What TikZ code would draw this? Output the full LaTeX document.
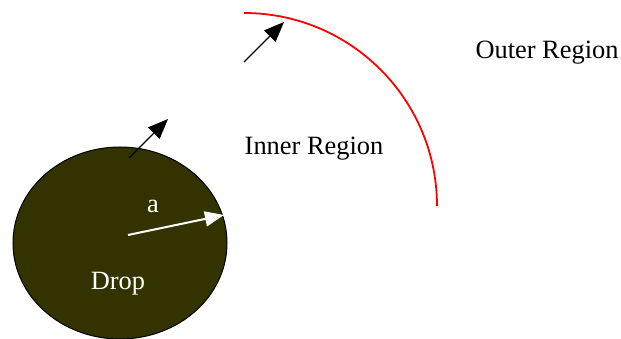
\documentclass[tikz,border=0pt]{standalone}
\usepackage{fontspec}
\setmainfont{Liberation Serif}
\usetikzlibrary{arrows.meta,shapes.geometric}
\definecolor{dropfill}{RGB}{51,51,0}
\tikzset{
  lbl/.style={font=\fontsize{26.4}{30}\selectfont, inner sep=0pt},
  bigarrow/.style={line width=1.3pt, -{Triangle[length=20pt,width=16pt]}},
}
\begin{document}
\begin{tikzpicture}[x=1pt,y=-1pt]
\useasboundingbox (0,0) rectangle (621,339);
% drop
\node[ellipse, draw=black, line width=1pt, fill=dropfill, minimum width=214pt, minimum height=192pt, inner sep=0pt] (drop) at (120,243) {};
% white radius arrow
\coordinate (rs) at (128,235);
\coordinate (re) at (224,215);
\draw[white, line width=2pt, -{Triangle[length=19pt,width=15pt]}] (rs) -- (re);
\node[lbl, text=white] (a) at (153,206) {a};
\node[lbl, text=white] (droplbl) at (118,284) {Drop};
% arrow leaving the drop
\coordinate (b1s) at (129,158);
\coordinate (b1e) at (168,119);
\draw[bigarrow] (b1s) -- (b1e);
% red arc
\coordinate (arcstart) at (244,13);
\draw[red, line width=1.8pt] (arcstart) arc[start angle=90, end angle=0, radius=193pt] coordinate (arcend);
% arrow towards the arc
\coordinate (b2s) at (244,62);
\coordinate (b2e) at (284,22);
\draw[bigarrow] (b2s) -- (b2e);
% labels
\node[lbl] (inner) at (314,149) {Inner Region};
\node[lbl] (outer) at (547,53) {Outer Region};
\end{tikzpicture}
\end{document}
